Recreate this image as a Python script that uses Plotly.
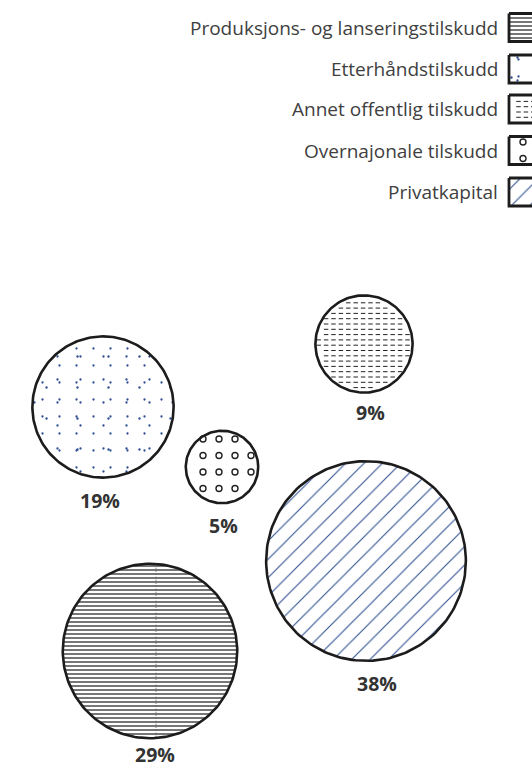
import numpy as np
import plotly.graph_objects as go

# ---------------- data ----------------
categories = ["Produksjons- og lanseringstilskudd", "Etterhåndstilskudd",
              "Annet offentlig tilskudd", "Overnajonale tilskudd", "Privatkapital"]
values = [29, 19, 9, 5, 38]  # percent
labels = [f"{v}%" for v in values]

# ---------------- layout (pixel positions) ----------------
W, H = 532, 768
centers_x = [150, 103, 364, 222, 366]
centers_y = [651, 407, 344, 467, 561]
label_x = [155, 100, 370, 223, 377]
label_y = [754, 500, 412, 525, 683]
scale_k = 16.2  # radius = k * sqrt(value)
legend_y = [27.5, 69, 109, 150.5, 192]
legend_text_x = 500
swatch_x0, swatch_x1, swatch_h = 509, 545, 28

BLUE = "#2c4d8f"
INK = "#1c1c1c"
FONT = "Open Sans"

fig = go.Figure()


def circle_poly(cx, cy, r, n=180):
    t = np.linspace(0, 2 * np.pi, n + 1)
    return list(cx + r * np.cos(t)), list(cy + r * np.sin(t))


def rect_poly(x0, y0, x1, y1):
    return [x0, x1, x1, x0, x0], [y0, y0, y1, y1, y0]


def inside(kind, geom, x, y, pad):
    if kind == "circle":
        cx, cy, r = geom
        return (x - cx) ** 2 + (y - cy) ** 2 <= (r - pad) ** 2
    x0, y0, x1, y1 = geom
    return (x0 + pad <= x <= x1 - pad) and (y0 + pad <= y <= y1 - pad)


def grid_points(kind, geom, dx, dy, ox, oy, pad):
    if kind == "circle":
        cx, cy, r = geom
        x0, y0, x1, y1 = cx - r, cy - r, cx + r, cy + r
    else:
        x0, y0, x1, y1 = geom
    xs, ys = [], []
    gx0 = ox + np.floor((x0 - ox) / dx) * dx
    gy0 = oy + np.floor((y0 - oy) / dy) * dy
    for gy in np.arange(gy0, y1 + dy, dy):
        for gx in np.arange(gx0, x1 + dx, dx):
            if inside(kind, geom, gx, gy, pad):
                xs.append(gx)
                ys.append(gy)
    return xs, ys


def add_fill(xs, ys, pattern=None):
    kw = dict(x=xs, y=ys, mode="lines", fill="toself", fillcolor="white",
              line=dict(width=0, color="rgba(0,0,0,0)"), hoverinfo="skip",
              showlegend=False)
    if pattern:
        kw["fillpattern"] = dict(pattern, bgcolor="white", fgopacity=1, fillmode="replace")
    fig.add_trace(go.Scatter(**kw))


def add_overlay_pattern(xs, ys, pattern):
    fig.add_trace(go.Scatter(x=xs, y=ys, mode="lines", fill="toself",
                             fillcolor="rgba(0,0,0,0)",
                             fillpattern=dict(pattern, bgcolor="rgba(0,0,0,0)",
                                              fgopacity=1, fillmode="overlay"),
                             line=dict(width=0, color="rgba(0,0,0,0)"),
                             hoverinfo="skip", showlegend=False))


def draw_texture(idx, kind, geom):
    if kind == "circle":
        xs, ys = circle_poly(*geom)
    else:
        xs, ys = rect_poly(*geom)
    if idx == 0:  # horizontal lines
        add_fill(xs, ys, dict(shape="-", fgcolor="#1a1a1a", size=4, solidity=0.3))
    elif idx == 1:  # sparse blue dots
        add_fill(xs, ys)
        for s, sol in [(17, 0.014), (23, 0.008), (31, 0.0045)]:
            add_overlay_pattern(xs, ys, dict(shape=".", fgcolor=BLUE, size=s, solidity=sol))
    elif idx == 2:  # dashed rows
        add_fill(xs, ys)
        px, py = grid_points(kind, geom, 7.4, 5.3, 0.5, 0.7, 3.0)
        fig.add_trace(go.Scatter(x=px, y=py, mode="markers",
                                 marker=dict(symbol="line-ew", size=3.2, color="#222222",
                                             line=dict(width=1.0, color="#222222")),
                                 hoverinfo="skip", showlegend=False))
    elif idx == 3:  # small rings
        add_fill(xs, ys)
        px, py = grid_points(kind, geom, 16, 16.5, 11, 10, 2.2)
        fig.add_trace(go.Scatter(x=px, y=py, mode="markers",
                                 marker=dict(symbol="circle-open", size=6, color="#222222",
                                             line=dict(width=1.4, color="#222222")),
                                 hoverinfo="skip", showlegend=False))
    elif idx == 4:  # blue diagonal lines
        add_fill(xs, ys, dict(shape="/", fgcolor=BLUE, size=13, solidity=0.08))
    # outline
    fig.add_trace(go.Scatter(x=xs, y=ys, mode="lines",
                             line=dict(color=INK, width=2.6 if kind == "circle" else 2.8),
                             hoverinfo="skip", showlegend=False))


# circles
for i, v in enumerate(values):
    r = scale_k * np.sqrt(v)
    draw_texture(i, "circle", (centers_x[i], centers_y[i], r))
    if i == 0:  # faint tile seam visible in the original artwork
        fig.add_trace(go.Scatter(x=[centers_x[i] + 6, centers_x[i] + 6],
                                 y=[centers_y[i] - r + 1, centers_y[i] + r - 1],
                                 mode="lines", line=dict(color="#555", width=1, dash="1px,2px"),
                                 hoverinfo="skip", showlegend=False))
    fig.add_annotation(x=label_x[i], y=label_y[i], text=f"<b>{labels[i]}</b>",
                       showarrow=False, font=dict(family=FONT, size=19.5, color="#333333"),
                       xanchor="center", yanchor="middle")

# legend (text left of swatch)
for i, name in enumerate(categories):
    yc = legend_y[i]
    draw_texture(i, "rect", (swatch_x0, yc - swatch_h / 2, swatch_x1, yc + swatch_h / 2))
    fig.add_annotation(x=legend_text_x, y=yc, text=name, showarrow=False,
                       font=dict(family=FONT, size=19, color="#404040"),
                       xanchor="right", yanchor="middle")

fig.update_layout(
    width=W, height=H, margin=dict(l=0, r=0, t=0, b=0),
    paper_bgcolor="white", plot_bgcolor="white", showlegend=False,
    xaxis=dict(range=[0, W], visible=False, fixedrange=True),
    yaxis=dict(range=[H, 0], visible=False, fixedrange=True),
)

fig.write_html("out.html", config={"displayModeBar": False},
               post_script="document.body.style.margin='0';document.body.style.overflow='hidden';")
